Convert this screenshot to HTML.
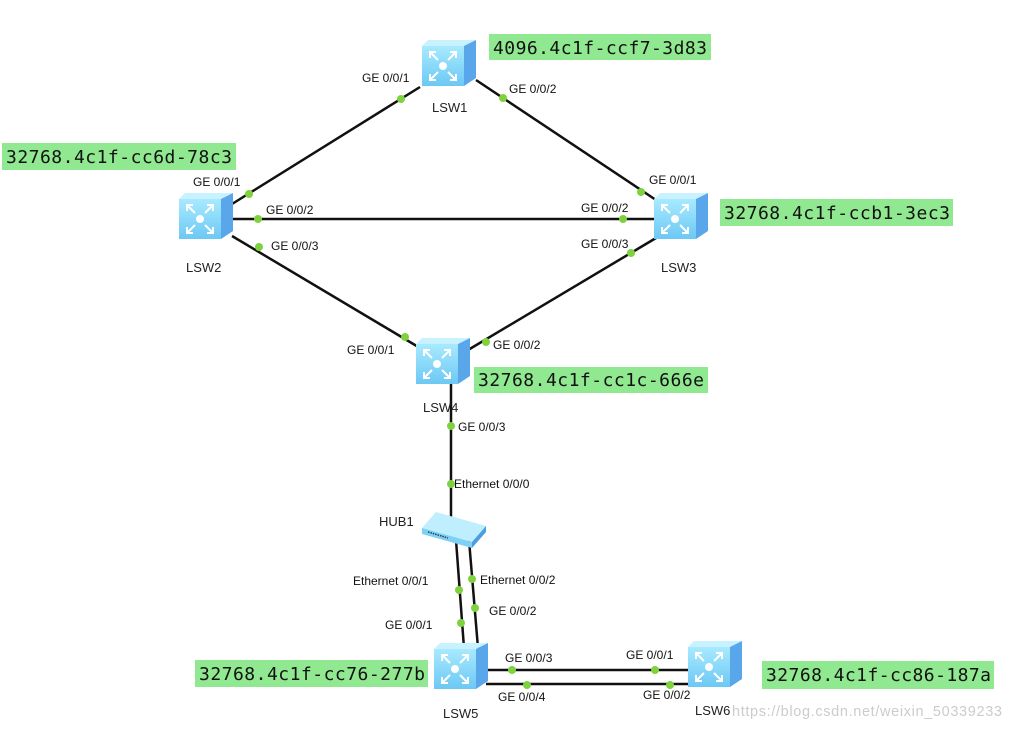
<!DOCTYPE html>
<html><head><meta charset="utf-8"><style>
html,body{margin:0;padding:0;background:#fff;}
svg{display:block;}
.l{font-family:"Liberation Sans",Arial,sans-serif;font-size:12px;fill:#111;}
.n{font-family:"Liberation Sans",Arial,sans-serif;font-size:13px;fill:#222;}
.m{font-family:"DejaVu Sans Mono","Liberation Mono",monospace;font-size:18px;fill:#111;}
</style></head><body>
<svg width="1012" height="730" viewBox="0 0 1012 730" xmlns="http://www.w3.org/2000/svg">
<defs>
<linearGradient id="fg" x1="0" y1="0" x2="0" y2="1"><stop offset="0" stop-color="#a8eaff"/><stop offset="1" stop-color="#6cc8f4"/></linearGradient>
<g id="sw">
<polygon points="0,6 6,0 54,0 42,6" fill="#c8f2ff"/>
<rect x="0" y="6" width="42" height="40" fill="url(#fg)"/>
<polygon points="42,6 54,0 54,38 42,46" fill="#5aa6ea"/>
<circle cx="21" cy="26" r="4" fill="#fff"/>
<g stroke="#fff" stroke-width="2" fill="none">
<path d="M8,12 L16,20 M8,18 L8,12 L14,12"/>
<path d="M34,12 L26,20 M34,18 L34,12 L28,12"/>
<path d="M8,40 L16,32 M8,34 L8,40 L14,40"/>
<path d="M34,40 L26,32 M34,34 L34,40 L28,40"/>
</g>
</g>
</defs>
<g stroke="#111" stroke-width="2.5" fill="none">
<line x1="420" y1="87" x2="232" y2="204"/>
<line x1="476" y1="80" x2="656" y2="200"/>
<line x1="232" y1="219" x2="656" y2="219"/>
<line x1="232" y1="236" x2="420" y2="348"/>
<line x1="656" y1="238" x2="468" y2="350"/>
<line x1="451" y1="380" x2="451" y2="518"/>
<line x1="456" y1="540" x2="464" y2="648"/>
<line x1="469" y1="540" x2="478" y2="648"/>
<line x1="486" y1="670" x2="690" y2="670"/>
<line x1="486" y1="684" x2="690" y2="684"/>
</g>
<use href="#sw" x="422" y="40"/>
<use href="#sw" x="179" y="193"/>
<use href="#sw" x="654" y="193"/>
<use href="#sw" x="416" y="338"/>
<use href="#sw" x="434" y="643"/>
<use href="#sw" x="688" y="641"/>
<polygon points="422,528 436,512 486,526 472,542" fill="#bfeeff"/>
<polygon points="422,528 472,542 472,548 422,534" fill="#7fd0f5"/>
<polygon points="472,542 486,526 486,532 472,548" fill="#4b9fe0"/>
<line x1="428" y1="532" x2="448" y2="538" stroke="#245" stroke-width="1.5" stroke-dasharray="1.5,1"/>
<g fill="#7ed23e">
<circle cx="401" cy="99" r="4"/><circle cx="249" cy="194" r="4"/>
<circle cx="503" cy="98" r="4"/><circle cx="641" cy="192" r="4"/>
<circle cx="258" cy="219" r="4"/><circle cx="623" cy="219" r="4"/>
<circle cx="259" cy="247" r="4"/><circle cx="405" cy="337" r="4"/>
<circle cx="631" cy="253" r="4"/><circle cx="486" cy="342" r="4"/>
<circle cx="451" cy="426" r="4"/><circle cx="451" cy="484" r="4"/>
<circle cx="459" cy="590" r="4"/><circle cx="461" cy="623" r="4"/>
<circle cx="472" cy="579" r="4"/><circle cx="475" cy="608" r="4"/>
<circle cx="512" cy="670" r="4"/><circle cx="655" cy="670" r="4"/>
<circle cx="527" cy="685" r="4"/><circle cx="670" cy="685" r="4"/>
</g>
<g class="l">
<text x="362" y="82">GE 0/0/1</text>
<text x="509" y="93">GE 0/0/2</text>
<text x="193" y="186">GE 0/0/1</text>
<text x="266" y="214">GE 0/0/2</text>
<text x="271" y="250">GE 0/0/3</text>
<text x="649" y="184">GE 0/0/1</text>
<text x="581" y="212">GE 0/0/2</text>
<text x="581" y="248">GE 0/0/3</text>
<text x="347" y="354">GE 0/0/1</text>
<text x="493" y="349">GE 0/0/2</text>
<text x="458" y="431">GE 0/0/3</text>
<text x="454" y="488">Ethernet 0/0/0</text>
<text x="353" y="585">Ethernet 0/0/1</text>
<text x="480" y="584">Ethernet 0/0/2</text>
<text x="385" y="629">GE 0/0/1</text>
<text x="489" y="615">GE 0/0/2</text>
<text x="505" y="662">GE 0/0/3</text>
<text x="498" y="701">GE 0/0/4</text>
<text x="626" y="659">GE 0/0/1</text>
<text x="643" y="699">GE 0/0/2</text>
</g>
<g class="n">
<text x="432" y="112">LSW1</text>
<text x="186" y="272">LSW2</text>
<text x="661" y="272">LSW3</text>
<text x="423" y="412">LSW4</text>
<text x="443" y="718">LSW5</text>
<text x="695" y="715">LSW6</text>
<text x="379" y="526">HUB1</text>
</g>
<text x="732" y="716" font-family="Liberation Sans,sans-serif" font-size="14.5" fill="#ccc" textLength="270">https://blog.csdn.net/weixin_50339233</text>
<g fill="#90e890">
<rect x="489" y="34" width="222" height="26"/>
<rect x="2" y="143" width="234" height="27"/>
<rect x="720" y="199" width="233" height="27"/>
<rect x="474" y="367" width="234" height="26"/>
<rect x="195" y="660" width="233" height="27"/>
<rect x="762" y="661" width="232" height="28"/>
</g>
<g class="m">
<text x="493" y="54" textLength="214">4096.4c1f-ccf7-3d83</text>
<text x="6" y="163" textLength="226">32768.4c1f-cc6d-78c3</text>
<text x="724" y="219" textLength="226">32768.4c1f-ccb1-3ec3</text>
<text x="478" y="386" textLength="226">32768.4c1f-cc1c-666e</text>
<text x="199" y="680" textLength="226">32768.4c1f-cc76-277b</text>
<text x="766" y="681" textLength="225">32768.4c1f-cc86-187a</text>
</g>
</svg>
</body></html>
